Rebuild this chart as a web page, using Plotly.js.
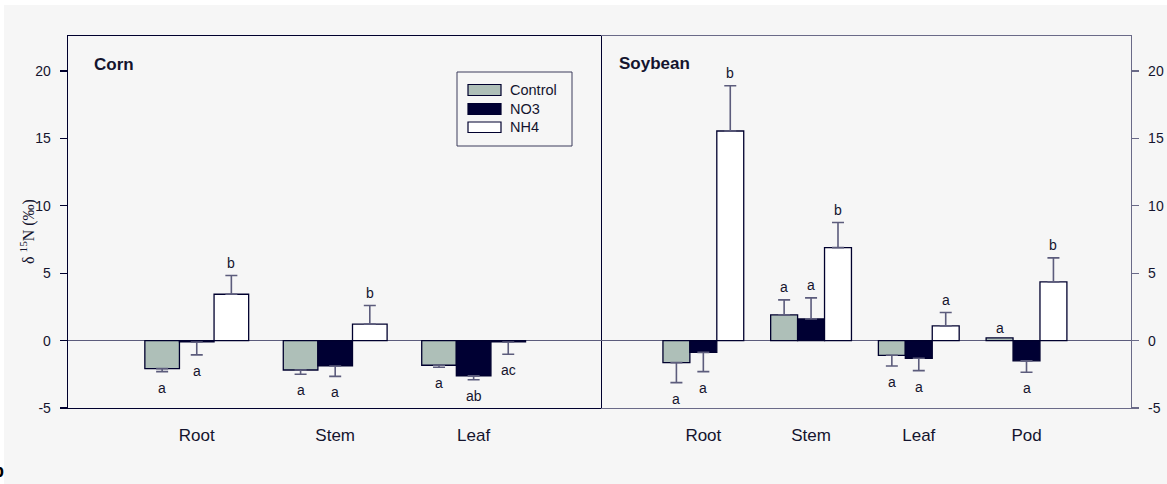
<!DOCTYPE html>
<html>
<head>
<meta charset="utf-8">
<script src="https://cdn.plot.ly/plotly-3.0.1.min.js"></script>
<style>html,body{margin:0;padding:0;background:#ffffff;}#chart{width:1167px;height:484px;}</style>
</head>
<body>
<div id="chart"></div>
<script>
// ---- data ----
const seriesNames = ['Control', 'NO3', 'NH4'];

const cornCategories = ['Root', 'Stem', 'Leaf'];
const cornControl = [-2.08, -2.18, -1.83];
const cornControlErr = [0.22, 0.32, 0.15];
const cornNO3 = [-0.10, -1.88, -2.62];
const cornNO3Err = [0.96, 0.77, 0.28];
const cornNH4 = [3.44, 1.22, -0.10];
const cornNH4Err = [1.39, 1.38, 0.91];
const cornControlLetters = ['a', 'a', 'a'];
const cornNO3Letters = ['a', 'a', 'ab'];
const cornNH4Letters = ['b', 'b', 'ac'];

const soyCategories = ['Root', 'Stem', 'Leaf', 'Pod'];
const soyControl = [-1.63, 1.91, -1.09, 0.20];
const soyControlErr = [1.49, 1.11, 0.79, null];
const soyNO3 = [-0.87, 1.61, -1.31, -1.50];
const soyNO3Err = [1.43, 1.56, 0.92, 0.85];
const soyNH4 = [15.55, 6.90, 1.09, 4.36];
const soyNH4Err = [3.36, 1.86, 0.99, 1.78];
const soyControlLetters = ['a', 'a', 'a', 'a'];
const soyNO3Letters = ['a', 'a', 'a', 'a'];
const soyNH4Letters = ['b', 'b', 'a', 'b'];

const yTickVals = [-5, 0, 5, 10, 15, 20];
const yTickLabels = ['-5', '0', '5', '10', '15', '20'];

// ---- styles ----
const NAVY = '#00002e';
const GREYLINE = '#5c5c7c';
const BG = '#f6f6f6';
const TXT = '#14142e';
const fillColors = ['#aebfb8', '#000033', '#ffffff'];
const BARGAP = 0.25;
const barW = (1 - BARGAP) / 3;

// pixel helpers for layout-only items
const L = 68, R = 36, T = 36, B = 76, W = 1167, H = 484;
const pw = W - L - R, ph = H - T - B;
const px = p => (p - L) / pw;
const py = p => (H - B - p) / ph;
const split = px(601);

function errSpec(vals, errs) {
  const up = [], dn = [];
  vals.forEach((v, i) => {
    const e = errs[i];
    if (e === null || e === undefined) { up.push(NaN); dn.push(NaN); }
    else if (v >= 0) { up.push(e); dn.push(0); }
    else { up.push(0); dn.push(e); }
  });
  return {type: 'data', symmetric: false, array: up, arrayminus: dn,
          color: GREYLINE, thickness: 1.6, width: 6};
}

const traces = [];
const annotations = [];

function addPanel(cats, vals, errs, letters, xa, ya) {
  const idx = cats.map((c, i) => i);
  vals.forEach((v, s) => {
    traces.push({
      type: 'bar', name: seriesNames[s], x: idx, y: v,
      xaxis: xa, yaxis: ya, showlegend: false,
      marker: {color: fillColors[s], line: {color: NAVY, width: 1.3}},
      error_y: errSpec(v, errs[s]), hoverinfo: 'x+y'
    });
    v.forEach((val, i) => {
      const e = errs[s][i] || 0;
      const up = val >= 0;
      const end = up ? val + e : val - e;
      annotations.push({
        xref: xa, yref: ya, x: i + (s - 1) * barW, y: end,
        text: letters[s][i], showarrow: false, yanchor: 'middle',
        yshift: up ? (e ? 13 : 10) : -16,
        font: {family: 'Arial, Liberation Sans, sans-serif', size: 14, color: TXT}
      });
    });
  });
}

addPanel(cornCategories, [cornControl, cornNO3, cornNH4],
         [cornControlErr, cornNO3Err, cornNH4Err],
         [cornControlLetters, cornNO3Letters, cornNH4Letters], 'x', 'y');
addPanel(soyCategories, [soyControl, soyNO3, soyNH4],
         [soyControlErr, soyNO3Err, soyNH4Err],
         [soyControlLetters, soyNO3Letters, soyNH4Letters], 'x2', 'y2');

// panel titles
annotations.push({xref: 'paper', yref: 'paper', x: px(92), y: py(64), xanchor: 'left', yanchor: 'middle',
  text: '<b>Corn</b>', showarrow: false, font: {family: 'Arial, Liberation Sans, sans-serif', size: 17, color: TXT}});
annotations.push({xref: 'paper', yref: 'paper', x: px(617), y: py(63), xanchor: 'left', yanchor: 'middle',
  text: '<b>Soybean</b>', showarrow: false, font: {family: 'Arial, Liberation Sans, sans-serif', size: 17, color: TXT}});
// y-axis title
annotations.push({xref: 'paper', yref: 'paper', x: px(27), y: py(232), xanchor: 'center', yanchor: 'middle',
  textangle: -90, text: 'δ <sup>15</sup>N (‰)', showarrow: false,
  font: {family: 'Liberation Serif, Times New Roman, serif', size: 16, color: TXT}});
// partial panel letter at bottom-left edge (cut off in the reference too)
annotations.push({xref: 'paper', yref: 'paper', x: px(6), y: py(471), xanchor: 'right', yanchor: 'middle',
  text: '<b>b</b>', showarrow: false, font: {family: 'Arial, Liberation Sans, sans-serif', size: 18, color: '#000000'}});

// custom legend
const shapes = [
  {type: 'rect', xref: 'paper', yref: 'paper', x0: px(4), x1: px(1167), y0: py(484), y1: py(5),
   fillcolor: BG, line: {width: 0}, layer: 'below'},
  {type: 'rect', xref: 'paper', yref: 'paper', x0: px(457), x1: px(572), y0: py(146), y1: py(72),
   fillcolor: 'rgba(0,0,0,0)', line: {color: '#3c3c5c', width: 1}}
];
const legRows = [[84.5, 95.5], [103.5, 114.5], [122, 132.5]];
seriesNames.forEach((n, s) => {
  shapes.push({type: 'rect', xref: 'paper', yref: 'paper', x0: px(468), x1: px(501),
    y0: py(legRows[s][1]), y1: py(legRows[s][0]), fillcolor: fillColors[s],
    line: {color: NAVY, width: 1.2}});
  annotations.push({xref: 'paper', yref: 'paper', x: px(508), y: py((legRows[s][0] + legRows[s][1]) / 2),
    xanchor: 'left', yanchor: 'middle', text: n, showarrow: false,
    font: {family: 'Arial, Liberation Sans, sans-serif', size: 14.5, color: TXT}});
});

const tickFont = {family: 'Arial, Liberation Sans, sans-serif', size: 14, color: TXT};
const catFont = {family: 'Arial, Liberation Sans, sans-serif', size: 17, color: TXT};

const layout = {
  width: W, height: H,
  margin: {l: L, r: R, t: T, b: B, pad: 0},
  paper_bgcolor: '#ffffff', plot_bgcolor: BG,
  barmode: 'group', bargap: BARGAP, bargroupgap: 0,
  showlegend: false,
  xaxis: {domain: [0, split], range: [-0.93, 2.92], tickvals: cornCategories.map((c, i) => i),
    ticktext: cornCategories, ticks: '', showgrid: false, zeroline: false,
    showline: true, mirror: true, linecolor: NAVY, linewidth: 1.3,
    tickfont: catFont, ticklabelstandoff: 11, anchor: 'y', fixedrange: true},
  yaxis: {domain: [0, 1], range: [-5, 22.6], tickvals: yTickVals, ticktext: yTickLabels,
    ticks: 'outside', ticklen: 7,
    tickcolor: NAVY, tickwidth: 1.2, showgrid: false, zeroline: true, zerolinecolor: GREYLINE,
    zerolinewidth: 1.3, showline: true, mirror: true, linecolor: NAVY, linewidth: 1.3,
    tickfont: tickFont, ticklabelstandoff: 6, anchor: 'x', fixedrange: true},
  xaxis2: {domain: [split, 1], range: [-0.95, 3.97], tickvals: soyCategories.map((c, i) => i),
    ticktext: soyCategories, ticks: '', showgrid: false, zeroline: false,
    showline: true, mirror: true, linecolor: '#6a6a88', linewidth: 1.3,
    tickfont: catFont, ticklabelstandoff: 11, anchor: 'y2', fixedrange: true},
  yaxis2: {domain: [0, 1], range: [-5, 22.6], tickvals: yTickVals, ticktext: yTickLabels,
    ticks: 'outside', ticklen: 7,
    tickcolor: '#6a6a88', tickwidth: 1.2, showgrid: false, zeroline: true, zerolinecolor: GREYLINE,
    zerolinewidth: 1.3, showline: true, mirror: false, side: 'right', linecolor: '#6a6a88', linewidth: 1.3,
    tickfont: tickFont, ticklabelstandoff: 6, anchor: 'x2', fixedrange: true},
  annotations: annotations,
  shapes: shapes
};

Plotly.newPlot('chart', traces, layout, {displayModeBar: false, staticPlot: true});
</script>
</body>
</html>
